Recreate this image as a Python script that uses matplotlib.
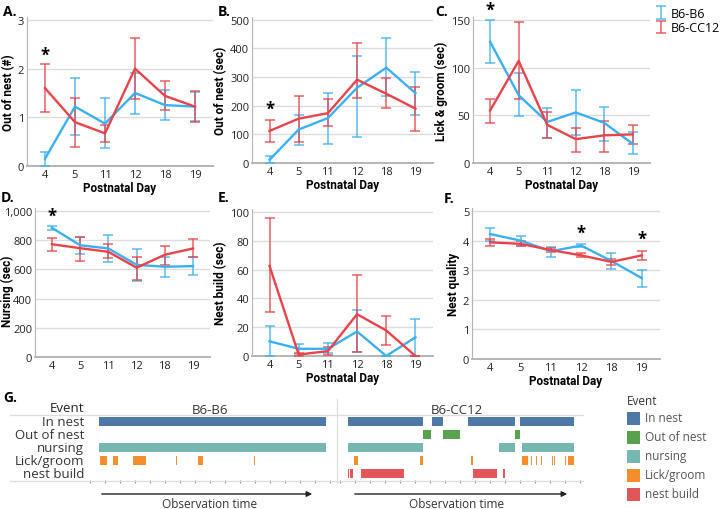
import numpy as np
import matplotlib.pyplot as plt
from matplotlib.ticker import StrMethodFormatter
from matplotlib.lines import Line2D
from matplotlib.patches import Rectangle, FancyArrowPatch

plt.rcParams['font.family'] = ['Open Sans', 'DejaVu Sans']
cond = ['Roboto', 'DejaVu Sans']

days = ["4", "5", "11", "12", "18", "19"]
blue = "#3bb0f0"
red = "#e8434a"

# panel A - out of nest (#)
a_b6 = [0.15, 1.22, 0.87, 1.50, 1.25, 1.22]
a_b6_lo = [0.0, 0.63, 0.36, 1.07, 0.94, 0.92]
a_b6_hi = [0.28, 1.81, 1.39, 1.91, 1.56, 1.52]
a_cc = [1.60, 0.90, 0.67, 2.00, 1.44, 1.22]
a_cc_lo = [1.10, 0.38, 0.50, 1.38, 1.15, 0.90]
a_cc_hi = [2.10, 1.40, 0.84, 2.63, 1.74, 1.55]

# panel B - out of nest (sec)
b_b6 = [11, 117, 157, 263, 333, 244]
b_b6_lo = [0, 64, 66, 91, 233, 167]
b_b6_hi = [24, 168, 245, 373, 435, 317]
b_cc = [112, 155, 174, 291, 242, 190]
b_cc_lo = [75, 72, 128, 228, 191, 111]
b_cc_hi = [149, 234, 222, 418, 297, 265]

# panel C - lick & groom (sec)
c_b6 = [127, 71, 43, 53, 42, 20]
c_b6_lo = [105, 49, 26, 29, 23, 9]
c_b6_hi = [150, 94, 58, 77, 59, 32]
c_cc = [55, 107, 40, 25, 29, 30]
c_cc_lo = [42, 67, 26, 12, 12, 20]
c_cc_hi = [67, 148, 53, 37, 44, 40]

# panel D - nursing (sec)
d_b6 = [884, 765, 743, 631, 618, 622]
d_b6_lo = [872, 705, 650, 521, 550, 564]
d_b6_hi = [899, 824, 832, 738, 685, 682]
d_cc = [772, 745, 720, 611, 700, 743]
d_cc_lo = [727, 660, 675, 530, 632, 682]
d_cc_hi = [812, 824, 772, 687, 762, 805]

# panel E - nest build (sec)
e_b6 = [10.2, 5, 5, 17, 0, 13]
e_b6_lo = [0, 1.6, 2, 2.7, 0, 0]
e_b6_hi = [21, 8.4, 9, 32, 0, 26]
e_cc = [62.5, 1, 3.4, 29, 17.7, 0]
e_cc_lo = [30.5, 0, 0.5, 2.7, 7.3, 0]
e_cc_hi = [96, 2, 6, 56, 28, 0]

# panel F - nest quality
f_b6 = [4.22, 4.0, 3.64, 3.83, 3.31, 2.73]
f_b6_lo = [4.0, 3.8, 3.44, 3.78, 3.03, 2.42]
f_b6_hi = [4.42, 4.17, 3.78, 3.9, 3.58, 3.0]
f_cc = [3.94, 3.89, 3.68, 3.5, 3.28, 3.5]
f_cc_lo = [3.82, 3.8, 3.61, 3.44, 3.17, 3.34]
f_cc_hi = [4.05, 3.98, 3.76, 3.59, 3.37, 3.64]

# gantt (minutes)
events = ["In nest", "Out of nest", "nursing", "Lick/groom", "nest build"]
ev_colors = ["#4e79a7", "#59a14f", "#76b7b2", "#f28e2b", "#e15759"]
b6_bouts = {
    "In nest": [(0.6, 15.73)],
    "Out of nest": [],
    "nursing": [(0.6, 15.73)],
    "Lick/groom": [(0.67, 1.15), (1.55, 1.85), (2.71, 2.75), (2.85, 3.71),
                   (5.75, 5.82), (7.2, 7.55), (10.95, 11.02)],
    "nest build": [],
}
cc_bouts = {
    "In nest": [(0.51, 5.55), (6.11, 6.85), (8.51, 11.67), (12.02, 15.62)],
    "Out of nest": [(5.55, 6.05), (6.85, 8.0), (11.67, 12.02)],
    "nursing": [(0.51, 5.55), (10.6, 11.67), (12.11, 15.62)],
    "Lick/groom": [(0.95, 1.18), (5.33, 5.55), (8.73, 8.84), (12.11, 12.51),
                   (12.73, 12.82), (13.07, 13.15), (13.4, 13.49), (14.11, 14.2),
                   (14.27, 14.33), (15.0, 15.09), (15.18, 15.62)],
    "nest build": [(0.51, 0.6), (0.67, 0.89), (1.4, 4.27), (8.84, 10.49), (10.89, 11.0)],
}

# stars: (panel, day index, value)
stars = [("A", 0, 2.32), ("B", 0, 194), ("C", 0, 162), ("D", 0, 980), ("F", 3, 4.31), ("F", 5, 4.11)]

W, H = 720, 510
fig = plt.figure(figsize=(W / 100, H / 100), dpi=100)


def px_axes(l, t, r, b):
    return fig.add_axes([l / W, 1 - b / H, (r - l) / W, (b - t) / H])


def line_panel(box, ymax, step, ylab, b6, b6lo, b6hi, cc, cclo, cchi, xlab=True, fmt=None):
    ax = px_axes(*box)
    x = np.arange(len(days))
    handles = []
    for m, lo, hi, col in [(b6, b6lo, b6hi, blue), (cc, cclo, cchi, red)]:
        m = np.array(m, float)
        err = [m - np.array(lo), np.array(hi) - m]
        h = ax.errorbar(x, m, yerr=err, fmt='none', ecolor=col, elinewidth=1.1,
                        capsize=3.5, capthick=1.1, alpha=0.85, zorder=3)
        ax.plot(x, m, color=col, lw=1.7, zorder=4)
        handles.append(h)
    ax.set_xlim(-0.6, 5.6)
    ax.set_ylim(0, ymax * 1.02)
    ax.set_yticks(np.arange(0, ymax + step / 2, step))
    ax.set_xticks(x)
    ax.set_xticklabels(days)
    if fmt:
        ax.yaxis.set_major_formatter(StrMethodFormatter(fmt))
    ax.grid(axis='y', color='#dcdcdc', lw=1)
    ax.set_axisbelow(True)
    for s in ['top', 'right']:
        ax.spines[s].set_visible(False)
    ax.spines['left'].set_color('#b5b5b5')
    ax.spines['bottom'].set_color('#b5b5b5')
    ax.spines['bottom'].set_linewidth(1.4)
    ax.tick_params(length=0, labelsize=8, colors='#222222', pad=2)
    ax.set_ylabel(ylab, fontsize=8.5, fontweight='bold', labelpad=2, family=cond)
    if xlab:
        ax.set_xlabel("Postnatal Day", fontsize=8.5, fontweight='bold', labelpad=1, family=cond)
    return ax, handles


axA, hA = line_panel((27, 18, 213, 167), 3, 1, "Out of nest (#)", a_b6, a_b6_lo, a_b6_hi, a_cc, a_cc_lo, a_cc_hi)
axB, _ = line_panel((252, 18, 433, 164), 500, 100, "Out of nest (sec)", b_b6, b_b6_lo, b_b6_hi, b_cc, b_cc_lo, b_cc_hi)
axC, _ = line_panel((473, 18, 650, 164), 150, 50, "Lick & groom (sec)", c_b6, c_b6_lo, c_b6_hi, c_cc, c_cc_lo, c_cc_hi)
axD, _ = line_panel((35, 209, 210, 358), 1000, 200, "Nursing (sec)", d_b6, d_b6_lo, d_b6_hi, d_cc, d_cc_lo, d_cc_hi,
                    xlab=False, fmt='{x:,.0f}')
axD.yaxis.set_label_coords((14 - 35) / 175, 0.45)
axE, _ = line_panel((252, 210, 433, 357), 100, 20, "Nest build (sec)", e_b6, e_b6_lo, e_b6_hi, e_cc, e_cc_lo, e_cc_hi)
axF, _ = line_panel((472, 209, 660, 360), 5, 1, "Nest quality", f_b6, f_b6_lo, f_b6_hi, f_cc, f_cc_lo, f_cc_hi)
panels = {"A": axA, "B": axB, "C": axC, "D": axD, "E": axE, "F": axF}

for p, xi, yv in stars:
    panels[p].annotate("*", (xi, yv), xytext=(0, -7.5), textcoords='offset points', ha='center',
                       va='bottom', fontsize=12, fontweight='bold', annotation_clip=False)

# panel letters
for lab, x, y in [("A.", 3, 12), ("B.", 218, 12), ("C.", 435, 12), ("D.", 1, 198), ("E.", 218, 198),
                  ("F.", 444, 199), ("G.", 3, 398)]:
    fig.text(x / W, 1 - y / H, lab, fontsize=10, fontweight='bold', va='center')

fig.legend(hA, ["B6-B6", "B6-CC12"], loc='upper left', bbox_to_anchor=(652 / W, 1 - 3 / H),
           frameon=False, fontsize=9, handlelength=0.7, handletextpad=0.4, labelspacing=0.1,
           borderaxespad=0)

# gantt
for box, bouts, title in [((88, 416, 337, 481), b6_bouts, "B6-B6"), ((337, 416, 583, 481), cc_bouts, "B6-CC12")]:
    ax = px_axes(*box)
    lo = -0.13 if title == "B6-B6" else -0.2
    ax.set_xlim(lo, lo + (box[2] - box[0]) / 15)
    ax.set_ylim(len(events) - 0.5, -0.5)
    for i, ev in enumerate(events):
        segs = [(s, e - s) for s, e in bouts[ev]]
        if segs:
            ax.broken_barh(segs, (i - 0.38, 0.76), facecolors=ev_colors[i], edgecolor='none')
    ax.set_xticks(np.arange(0, 17))
    ax.set_yticks([])
    ax.tick_params(axis='x', length=2.5, color='#888888', labelbottom=False, direction='out')
    for s in ['top', 'right', 'left', 'bottom']:
        ax.spines[s].set_visible(False)
    cx = (box[0] + box[2]) / 2
    fig.text((cx - 3) / W, 1 - 410 / H, title, ha='center', va='center', fontsize=9.5, color='#333333')
    fig.text((cx - 3) / W, 1 - 505 / H, "Observation time", ha='center', va='center', fontsize=8.5, color='#333333')

for y in (416, 481.5):
    fig.add_artist(Line2D([10 / W, 583 / W], [1 - y / H] * 2, color='#dddddd', lw=0.9))
fig.add_artist(Line2D([337 / W] * 2, [1 - 400 / H, 1 - 484 / H], color='#dddddd', lw=0.9))
for x0, x1 in [(99, 315), (352, 570)]:
    fig.add_artist(FancyArrowPatch((x0 / W, 1 - 495 / H), (x1 / W, 1 - 495 / H),
                                   transform=fig.transFigure, arrowstyle='-|>',
                                   mutation_scale=8, color='#222222', lw=1))

fig.text(84 / W, 1 - 408 / H, "Event", ha='right', va='center', fontsize=9.5, color='#222222')
for i, ev in enumerate(events):
    fig.text(84 / W, 1 - (423 + 13 * i) / H, ev, ha='right', va='center', fontsize=9.5, color='#333333')

# gantt legend
fig.text(627 / W, 1 - 402 / H, "Event", ha='left', va='center', fontsize=8.5, color='#333333')
for i, ev in enumerate(events):
    yc = 419 + 19 * i
    fig.add_artist(Rectangle((627 / W, 1 - (yc + 6.5) / H), 13 / W, 13 / H, transform=fig.transFigure,
                             facecolor=ev_colors[i], edgecolor='none'))
    fig.text(645 / W, 1 - yc / H, ev, ha='left', va='center', fontsize=8.5, color='#555555')

fig.savefig("out.png", dpi=100)
